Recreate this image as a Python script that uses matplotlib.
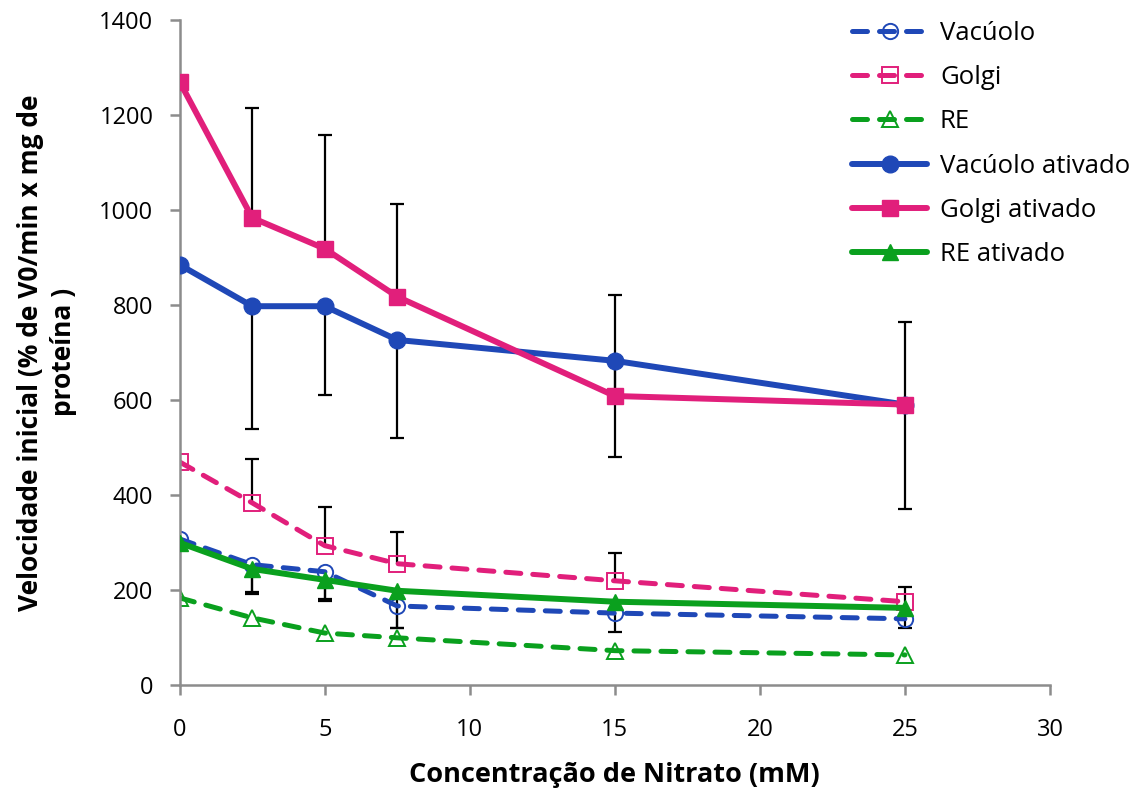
import numpy as np
import matplotlib
matplotlib.use("Agg")
import matplotlib.pyplot as plt

# concentração de nitrato (mM)
nitrato = [0, 2.5, 5, 7.5, 15, 25]

# valores
vacuolo = [307, 253, 238, 166, 151, 139]
golgi = [469, 383, 293, 255, 219, 175]
re = [183, 141, 109, 99, 72, 63]
vacuolo_at = [884, 797, 797, 726, 682, 590]
golgi_at = [1269, 983, 918, 817, 608, 590]
re_at = [299, 244, 221, 198, 175, 162]

# barras de erro (só um lado aparece no gráfico)
err_golgi_at = [0, 232, 240, 196, 213, 174]
err_vacuolo_at = [0, 259, 187, 206, 202, 220]
err_golgi = [0, 93, 82, 67, 59, 31]
err_vacuolo = [0, 57, 57, 46, 39, 19]
err_re_at = [0, 52, 44, 78, 0, 0]

azul = '#1f48b7'
rosa = '#e11f7b'
verde = '#0aa01e'

plt.rcParams['font.family'] = ['Open Sans', 'DejaVu Sans']

fig = plt.figure(figsize=(11.45, 7.89), dpi=100)
ax = fig.add_axes([0.157, 0.132, 0.760, 0.843])


def barra(x, y, err, lado):
    # barra de erro de um lado só (+1 para cima, -1 para baixo), traço só na ponta
    x = np.asarray(x, float)
    y = np.asarray(y, float)
    err = np.asarray(err, float)
    m = err > 0
    zeros = np.zeros(m.sum())
    yerr = [zeros, err[m]] if lado > 0 else [err[m], zeros]
    ax.errorbar(x[m], y[m], yerr=yerr, fmt='none', ecolor='black',
                elinewidth=1.6, capsize=0, zorder=1.5)
    ax.plot(x[m], y[m] + lado * err[m], linestyle='none', marker='_',
            markersize=9.5, markeredgewidth=1.6, color='black', zorder=1.5)


barra(nitrato, golgi_at, err_golgi_at, +1)
barra(nitrato, vacuolo_at, err_vacuolo_at, -1)
barra(nitrato, golgi, err_golgi, +1)
barra(nitrato, vacuolo, err_vacuolo, -1)
barra(nitrato, re_at, err_re_at, -1)

tracejado = (0, (3, 2.4))
kw_tr = dict(lw=3.6, linestyle=tracejado, dash_capstyle='round', markersize=11,
             markerfacecolor='none', markeredgewidth=1.4, zorder=2)
ax.plot(nitrato, vacuolo, color=azul, marker='o', label='Vacúolo', **kw_tr)
ax.plot(nitrato, golgi, color=rosa, marker='s', label='Golgi', **kw_tr)
ax.plot(nitrato, re, color=verde, marker='^', label='RE', **kw_tr)

kw_sol = dict(lw=4.3, solid_capstyle='round', markersize=12, zorder=3)
ax.plot(nitrato, vacuolo_at, color=azul, marker='o', label='Vacúolo ativado', **kw_sol)
ax.plot(nitrato, golgi_at, color=rosa, marker='s', label='Golgi ativado', **kw_sol)
ax.plot(nitrato, re_at, color=verde, marker='^', label='RE ativado', **kw_sol)

ax.set_xlim(0, 30)
ax.set_ylim(0, 1400)
ax.set_xticks(range(0, 31, 5))
ax.set_yticks(range(0, 1401, 200))
for s in ['top', 'right']:
    ax.spines[s].set_visible(False)
for s in ['left', 'bottom']:
    ax.spines[s].set_color('#8c8c8c')
    ax.spines[s].set_linewidth(1.8)
ax.tick_params(colors='#8c8c8c', width=1.8, length=7, labelcolor='black',
               labelsize=17)
ax.tick_params(axis='y', pad=12)
ax.tick_params(axis='x', pad=17)

ax.set_xlabel('Concentração de Nitrato (mM)', fontsize=19.5, fontweight='bold', labelpad=14)
ax.set_ylabel('Velocidade inicial (% de V0/min x mg de\nproteína )', fontsize=19,
              fontweight='bold', labelpad=16, linespacing=1.3)

ax.legend(loc='upper left', bbox_to_anchor=(0.724, 1.003), bbox_transform=fig.transFigure,
          frameon=False, fontsize=18.5, handlelength=2.92, labelspacing=0.75,
          numpoints=1, handletextpad=0.5)

fig.savefig('out.png', dpi=100)
